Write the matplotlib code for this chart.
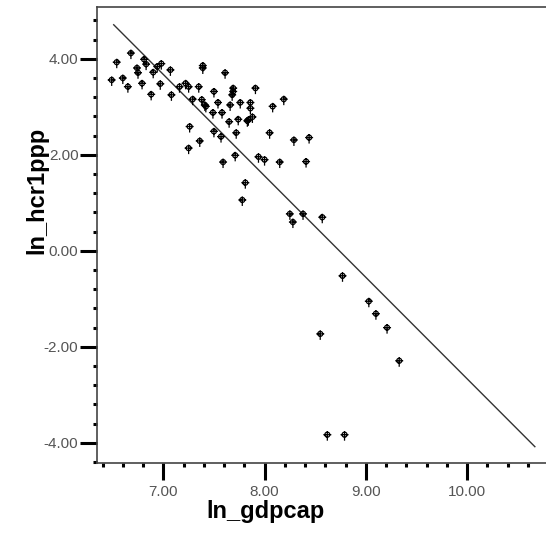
# -*- coding: utf-8 -*-

import numpy as np
import matplotlib
matplotlib.use('Agg')
import matplotlib.pyplot as plt
from matplotlib.path import Path
from matplotlib.markers import MarkerStyle
from matplotlib.ticker import MultipleLocator, FormatStrFormatter

plt.rcParams['font.family'] = ['Liberation Sans', 'DejaVu Sans']

# scatter values
ln_gdpcap = [6.49, 6.54, 6.60, 6.65, 6.68, 6.74, 6.75, 6.79, 6.81, 6.83,
             6.88, 6.90, 6.94, 6.98, 6.97, 7.07, 7.08, 7.16, 7.22, 7.25,
             7.26, 7.25, 7.29, 7.35, 7.36, 7.38, 7.39, 7.39, 7.41, 7.42,
             7.49, 7.50, 7.50, 7.54, 7.57, 7.58, 7.59, 7.61, 7.65, 7.66,
             7.68, 7.69, 7.69, 7.71, 7.72, 7.74, 7.76, 7.83, 7.84, 7.86,
             7.86, 7.88, 7.91, 7.94, 8.00, 8.05, 8.08, 8.15, 8.19, 8.29,
             8.44, 8.41, 7.81, 7.78, 8.25, 8.28, 8.38, 8.57, 8.77, 8.55,
             9.03, 9.10, 9.21, 9.33, 8.62, 8.79]
ln_hcr1ppp = [3.56, 3.93, 3.60, 3.42, 4.12, 3.81, 3.71, 3.49, 3.99, 3.89,
              3.26, 3.72, 3.84, 3.90, 3.48, 3.77, 3.25, 3.42, 3.49, 3.42,
              2.59, 2.14, 3.16, 3.42, 2.29, 3.15, 3.86, 3.81, 3.04, 3.01,
              2.88, 3.32, 2.49, 3.09, 2.38, 2.88, 1.85, 3.71, 2.69, 3.04,
              3.25, 3.32, 3.39, 1.99, 2.46, 2.74, 3.09, 2.71, 2.73, 3.09,
              2.97, 2.79, 3.39, 1.96, 1.90, 2.46, 3.01, 1.85, 3.16, 2.31,
              2.36, 1.86, 1.42, 1.06, 0.77, 0.60, 0.77, 0.70, -0.52, -1.73,
              -1.05, -1.31, -1.60, -2.29, -3.83, -3.83]

# fit line end points
fit_x = [6.51, 10.67]
fit_y = [4.71, -4.08]

# marker: circle with a cross and a stem hanging below (pixel units)
circ = Path.circle(center=(0, 0), radius=2.5)
bars = Path([(-4, 0), (4, 0), (0, 3.5), (0, -6)],
            [Path.MOVETO, Path.LINETO, Path.MOVETO, Path.LINETO])
mk = MarkerStyle(Path.make_compound_path(circ, bars))
ms = 2 * 6 * 0.72

fig = plt.figure(figsize=(5.46, 5.38), dpi=100)
ax = fig.add_axes([96.5 / 546, 75 / 538, 1 - 96.5 / 546, 456 / 538])

ax.plot(fit_x, fit_y, color='#333333', lw=1.0)
ax.scatter(ln_gdpcap, ln_hcr1ppp, marker=mk, s=ms ** 2,
           facecolors='none', edgecolors='black', linewidths=0.9, zorder=3)

ax.set_xlim(6.34, 10.78)
ax.set_ylim(-4.42, 5.08)

ax.xaxis.set_major_locator(MultipleLocator(1.0))
ax.xaxis.set_minor_locator(MultipleLocator(0.2))
ax.yaxis.set_major_locator(MultipleLocator(2.0))
ax.yaxis.set_minor_locator(MultipleLocator(0.4))
ax.xaxis.set_major_formatter(FormatStrFormatter('%.2f'))
ax.yaxis.set_major_formatter(FormatStrFormatter('%.2f'))

ax.tick_params(which='major', length=12, width=2.2, color='black',
               labelsize=11, labelcolor='#555555')
ax.tick_params(axis='x', which='major', pad=4)
ax.tick_params(axis='y', which='major', pad=1)
ax.tick_params(which='minor', length=3, width=2.2, color='black')

ax.spines['right'].set_visible(False)
for s in ('left', 'top', 'bottom'):
    ax.spines[s].set_color('#444444')
    ax.spines[s].set_linewidth(1.2)

ax.set_xlabel('ln_gdpcap', fontsize=17, fontweight='bold')
ax.set_ylabel('ln_hcr1ppp', fontsize=17, fontweight='bold')
ax.xaxis.set_label_coords((265 - 96.5) / 449.5, (463 - 500) / 456)
ax.yaxis.set_label_coords((48 - 96.5) / 449.5, (463 - 190) / 456)

fig.savefig('out.png', dpi=100)
